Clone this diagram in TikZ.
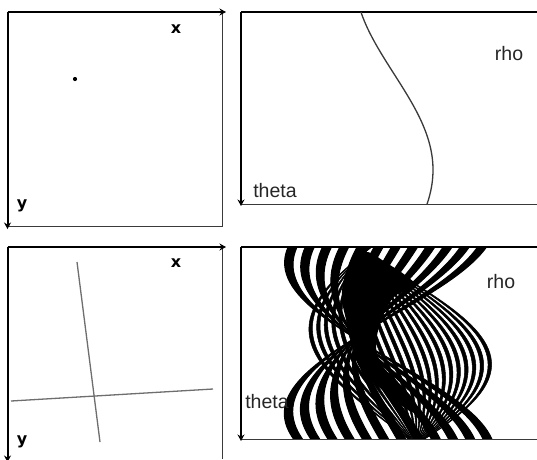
\documentclass[tikz,border=0pt]{standalone}
\usepackage{fontspec}
\setmainfont{Liberation Sans}
\newfontfamily\boldlabel{DejaVu Sans Bold}
\usepackage{xcolor}
\usepackage{tikz}
\usetikzlibrary{arrows.meta}
\definecolor{framegray}{HTML}{3A3A3A}
\definecolor{linegray}{HTML}{6E6E6E}
\tikzset{
  axisline/.style={black, line width=2pt},
  axisarrow/.style={axisline, -{Stealth[length=6.5pt, width=7pt]}},
  frameline/.style={framegray, line width=1pt},
  imgline/.style={linegray, line width=1.3pt},
  coordlabel/.style={font=\boldlabel\fontsize{16}{16}\selectfont, inner sep=0pt},
  houghlabel/.style={font=\fontsize{19.5}{20}\selectfont, text=black!85, inner sep=0pt},
}

\begin{document}
\begin{tikzpicture}[x=1pt, y=-1pt,
  declare function={
    % the two bundles of curves, one for each line of the image
    bundleA(\a,\t)=(1-\t)*109*cos(\a+23.5)-\t*110*cos(\a-14);
    bundleB(\a,\t)=(1-\t)*102*cos(\a-110)-\t*85*cos(\a-78);
    onecurve(\a)=39*cos(\a-148);
  }]
\useasboundingbox (0,0) rectangle (537,459);
\fill[white] (0,0) rectangle (537,459);

% top left: image with a point
\coordinate (tlorigin) at (7.5,12);
\coordinate (tlxend) at (226,12);
\coordinate (tlyend) at (7.5,229);
\coordinate (tlcorner) at (222,226);
\draw[frameline] (222,12) -- (tlcorner) -- (7.5,226);
\draw[axisarrow] (tlorigin) -- (tlxend);
\draw[axisarrow] (tlorigin) -- (tlyend);
\fill (75,79) circle (2.1pt);
\node[coordlabel] (tlx) at (176,29) {x};
\node[coordlabel] (tly) at (22,206) {y};

% top right: one sinusoid
\coordinate (trorigin) at (241,12);
\coordinate (tryend) at (241,206);
\draw[frameline] (241,204.5) -- (537,204.5);
\draw[axisline] (trorigin) -- (537,12);
\draw[axisarrow] (trorigin) -- (tryend);
\draw[framegray, line width=1.3pt] plot[domain=0:180, samples=60, variable=\a, smooth]
  ({394+onecurve(\a)},{12+\a*1.0667});
\node[houghlabel] (trtheta) at (275,191) {theta};
\node[houghlabel] (trrho) at (509,54) {rho};

% bottom left: image with two lines
\coordinate (blorigin) at (7.5,247);
\coordinate (blxend) at (226,247);
\coordinate (blyend) at (7.5,462);
\draw[frameline] (222,247) -- (222,459);
\draw[axisarrow] (blorigin) -- (blxend);
\draw[axisarrow] (blorigin) -- (blyend);
\draw[imgline] (77,262) -- (100,442);
\draw[imgline] (11,401) -- (213,389);
\node[coordlabel] (blx) at (176,263) {x};
\node[coordlabel] (bly) at (22,442) {y};

% bottom right: the sinusoids of all line points
\begin{scope}
\clip (241,247) rectangle (537,439);
\foreach \i in {0,...,11}{
  \filldraw[black, line width=1pt, line join=round] plot[domain=0:180, samples=50, variable=\a]
      ({390+bundleA(\a,(\i+0.2)/12)},{247+\a*1.0667})
    -- plot[domain=180:0, samples=50, variable=\a]
      ({390+bundleA(\a,(\i+0.72)/12)},{247+\a*1.0667}) -- cycle;
}
\foreach \i in {0,...,21}{
  \filldraw[black, line width=0.5pt, line join=round] plot[domain=0:180, samples=50, variable=\a]
      ({390+bundleB(\a,(\i+0.05)/22)},{247+\a*1.0667})
    -- plot[domain=180:0, samples=50, variable=\a]
      ({390+bundleB(\a,(\i+0.5)/22)},{247+\a*1.0667}) -- cycle;
}
% where the curves pile up
\fill[black] plot[smooth cycle, tension=0.6] coordinates {(368,252) (385,262) (405,275) (416,287)
  (395,296) (382,318) (376,345) (382,365) (398,382) (414,400) (418,412) (408,410)
  (385,392) (365,375) (354,355) (349,330) (342,300) (345,275) (355,258)};
\end{scope}
\coordinate (brorigin) at (241,247);
\coordinate (bryend) at (241,441);
\draw[frameline] (241,439) -- (537,439);
\draw[axisline] (brorigin) -- (537,247);
\draw[axisarrow] (brorigin) -- (bryend);
\node[houghlabel] (brtheta) at (267,402) {theta};
\node[houghlabel] (brrho) at (501,282) {rho};
\end{tikzpicture}
\end{document}
